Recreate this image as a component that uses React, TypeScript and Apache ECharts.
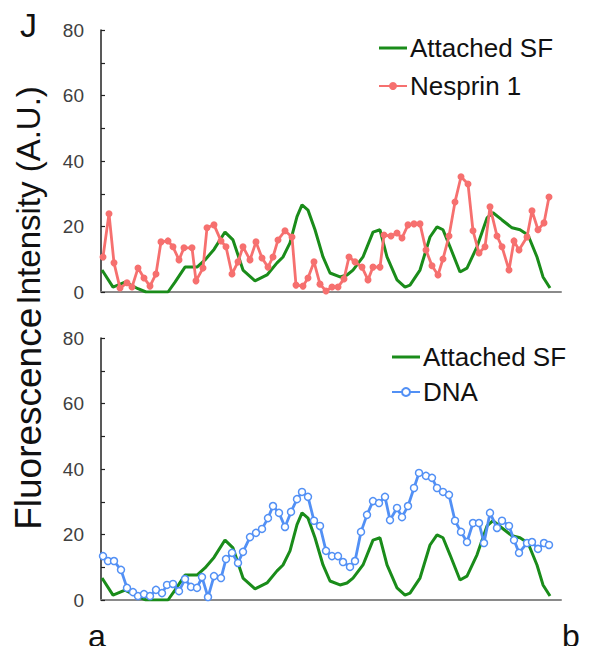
import React, { useEffect, useRef } from "react";
import * as echarts from "echarts";

// Position along the line a → b (arbitrary units, 0–460)
const sfX = [1, 12, 24, 37, 45, 67, 74, 84, 96, 104, 113, 124, 132, 142, 154, 166, 176, 182, 189, 196, 201, 207, 214, 222, 229, 239, 246, 252, 262, 272, 279, 286, 296, 304, 309, 319, 329, 336, 342, 349, 359, 366, 376, 386, 392, 401, 411, 419, 427, 436, 442, 449];
const sfY = [6.7, 1.5, 3.0, 1.0, 0, 0, 3, 7.6, 7.6, 9.8, 13, 18.3, 15.9, 6.7, 3.4, 5.2, 8.9, 10.7, 15, 23, 26.6, 25, 19, 10.7, 5.8, 4.6, 5.2, 6.7, 10.7, 18.3, 19, 10.7, 3.7, 1.5, 2.1, 6.7, 16.8, 19.9, 19, 13.8, 6.1, 7.3, 13.8, 22.6, 24.2, 22, 19.6, 19, 17.4, 10.7, 4.6, 1.2];

const nesX = [2, 8, 13, 19, 26, 31, 37, 43, 49, 55, 60, 67, 72, 78, 83, 91, 95, 102, 106, 113, 120, 125, 131, 137, 142, 149, 155, 161, 167, 172, 177, 184, 191, 195, 202, 207, 213, 219, 225, 231, 237, 243, 248, 254, 261, 267, 272, 279, 283, 290, 296, 301, 307, 313, 319, 325, 331, 337, 342, 348, 354, 360, 367, 372, 378, 384, 389, 396, 401, 408, 413, 418, 426, 431, 437, 443, 448];
const nesY = [10.7, 23.9, 8.9, 1.2, 2.8, 1.5, 7.3, 4.3, 1.8, 5.5, 15.3, 15.6, 13.8, 9.8, 13.5, 13.5, 3.4, 7.3, 19.6, 20.5, 15.6, 13.8, 5.5, 9.2, 13.8, 9.8, 15.3, 10.4, 7.6, 10.7, 15.9, 18.7, 16.8, 2.1, 1.8, 4.3, 9.2, 2.4, 0.3, 1.5, 1.5, 4.0, 10.7, 9.2, 7.6, 3.7, 7.6, 7.6, 17.4, 17.1, 18, 16.5, 20.5, 20.8, 20.8, 12.8, 8, 5.2, 10.1, 17.1, 27.5, 35.2, 33, 18.7, 11.9, 13.8, 26, 17.1, 13.8, 6.7, 15.6, 12.8, 16.8, 24.8, 19, 21.1, 29];

const dnaX = [2, 7, 13, 20, 26, 32, 37, 43, 49, 55, 61, 66, 72, 78, 84, 90, 96, 101, 107, 113, 120, 125, 131, 137, 142, 149, 155, 161, 167, 172, 178, 184, 190, 196, 201, 207, 213, 219, 225, 231, 237, 242, 249, 254, 260, 266, 272, 278, 284, 289, 296, 301, 307, 313, 318, 325, 331, 336, 342, 348, 354, 360, 366, 372, 378, 383, 389, 396, 401, 408, 413, 418, 426, 431, 437, 443, 448];
const dnaY = [13.4, 11.9, 11.9, 9.2, 3.7, 2.4, 1.2, 1.8, 1.2, 3.1, 2.1, 4.6, 4.9, 2.7, 6.4, 4.0, 3.7, 7.0, 0.9, 7.3, 6.7, 12.5, 14.4, 11.3, 14.7, 19.2, 20.5, 21.7, 25, 28.7, 26.6, 22.3, 26.9, 30.8, 33, 31.5, 24.2, 22.6, 15, 13.4, 13.4, 11.6, 10.1, 11.9, 20.8, 26, 30.2, 29.6, 31.5, 24.4, 28.1, 25.3, 28.7, 34.2, 38.8, 37.9, 37.3, 34.2, 33, 32.1, 24.2, 20.8, 17.7, 23.5, 23.5, 17.4, 26.6, 22, 24.2, 22.6, 18.3, 14.4, 17.4, 17.7, 15.6, 17.4, 16.8];

const yTicks = [0, 20, 40, 60, 80];

const pairs = (xs: number[], ys: number[]) => xs.map((x, i) => [x, ys[i]]);

const FONT = "Liberation Sans, Arial, sans-serif";
const GREEN = "#1a8c1a";
const RED = "#f6706f";
const BLUE = "#5290f5";
const LINE_ICON = "path://M0,0 L28,0 L28,3 L0,3 Z";

export default function App() {
  const ref = useRef<HTMLDivElement>(null);
  useEffect(() => {
    if (!ref.current) return;
    const chart = echarts.init(ref.current, null, { renderer: "svg" });
    const yAxisBase = (gi: number) => ({
      type: "value",
      gridIndex: gi,
      min: 0,
      max: 80,
      interval: 10,
      axisLine: { show: true, lineStyle: { color: "#222", width: 1.5 } },
      axisTick: { show: true, inside: true, length: 4, lineStyle: { color: "#222", width: 1.2 } },
      splitLine: { show: false },
      axisLabel: {
        margin: 17,
        fontSize: 19,
        color: "#404040",
        fontFamily: FONT,
        formatter: (v: number) => (yTicks.includes(v) ? String(v) : ""),
      },
    });
    const xAxisBase = (gi: number) => ({
      type: "value",
      gridIndex: gi,
      min: 0,
      max: 460,
      axisLine: { show: true, onZero: false, lineStyle: { color: "#8a8a8a", width: 2 } },
      axisTick: { show: false },
      axisLabel: { show: false },
      splitLine: { show: false },
    });
    const legendBase = {
      orient: "vertical",
      itemWidth: 28,
      itemHeight: 10,
      itemGap: 12,
      textStyle: { fontSize: 26, color: "#111", fontFamily: FONT, padding: [0, 0, 0, -2] },
    };
    chart.setOption({
      animation: false,
      backgroundColor: "#fff",
      grid: [
        { left: 101, top: 30, right: 34, height: 262 },
        { left: 101, top: 338, right: 34, height: 262 },
      ],
      xAxis: [xAxisBase(0), xAxisBase(1)],
      yAxis: [yAxisBase(0), yAxisBase(1)],
      legend: [
        {
          ...legendBase,
          left: 373,
          top: 30,
          data: [{ name: "Attached SF", icon: LINE_ICON }, "Nesprin 1"],
        },
        {
          ...legendBase,
          left: 386,
          top: 339,
          itemGap: 9,
          data: [{ name: "Attached SF ", icon: LINE_ICON }, "DNA"],
        },
      ],
      series: [
        {
          name: "Attached SF",
          type: "line",
          xAxisIndex: 0,
          yAxisIndex: 0,
          data: pairs(sfX, sfY),
          symbol: "none",
          lineStyle: { color: GREEN, width: 3 },
          itemStyle: { color: GREEN },
          z: 2,
        },
        {
          name: "Nesprin 1",
          type: "line",
          xAxisIndex: 0,
          yAxisIndex: 0,
          data: pairs(nesX, nesY),
          symbol: "circle",
          symbolSize: 7,
          lineStyle: { color: RED, width: 2.8 },
          itemStyle: { color: RED },
          z: 3,
        },
        {
          name: "Attached SF ",
          type: "line",
          xAxisIndex: 1,
          yAxisIndex: 1,
          data: pairs(sfX, sfY),
          symbol: "none",
          lineStyle: { color: GREEN, width: 3 },
          itemStyle: { color: GREEN },
          z: 2,
        },
        {
          name: "DNA",
          type: "line",
          xAxisIndex: 1,
          yAxisIndex: 1,
          data: pairs(dnaX, dnaY),
          symbol: "circle",
          symbolSize: 7,
          lineStyle: { color: BLUE, width: 2.8 },
          itemStyle: { color: "#fff", borderColor: BLUE, borderWidth: 1.5 },
          z: 3,
        },
      ],
      graphic: [
        {
          type: "text",
          left: 20,
          top: 8,
          style: { text: "J", fontSize: 34, fill: "#111", fontFamily: FONT },
        },
        {
          type: "text",
          x: 97,
          y: 636,
          style: { text: "a", fontSize: 32, fill: "#111", fontFamily: FONT, align: "center", verticalAlign: "middle" },
        },
        {
          type: "text",
          x: 571,
          y: 636,
          style: { text: "b", fontSize: 32, fill: "#111", fontFamily: FONT, align: "center", verticalAlign: "middle" },
        },
        {
          type: "text",
          x: 28,
          y: 308,
          rotation: Math.PI / 2,
          style: {
            text: "{a|Fluorescence} {b|Intensity (A.U.)}",
            align: "center",
            verticalAlign: "middle",
            fill: "#111",
            fontFamily: FONT,
            rich: {
              a: { fontSize: 37, fontFamily: FONT, fill: "#111" },
              b: { fontSize: 33, fontFamily: FONT, fill: "#111" },
            },
          },
        },
      ],
    });
    return () => chart.dispose();
  }, []);
  return <div ref={ref} style={{ width: 595, height: 654, margin: -8 }} />;
}
